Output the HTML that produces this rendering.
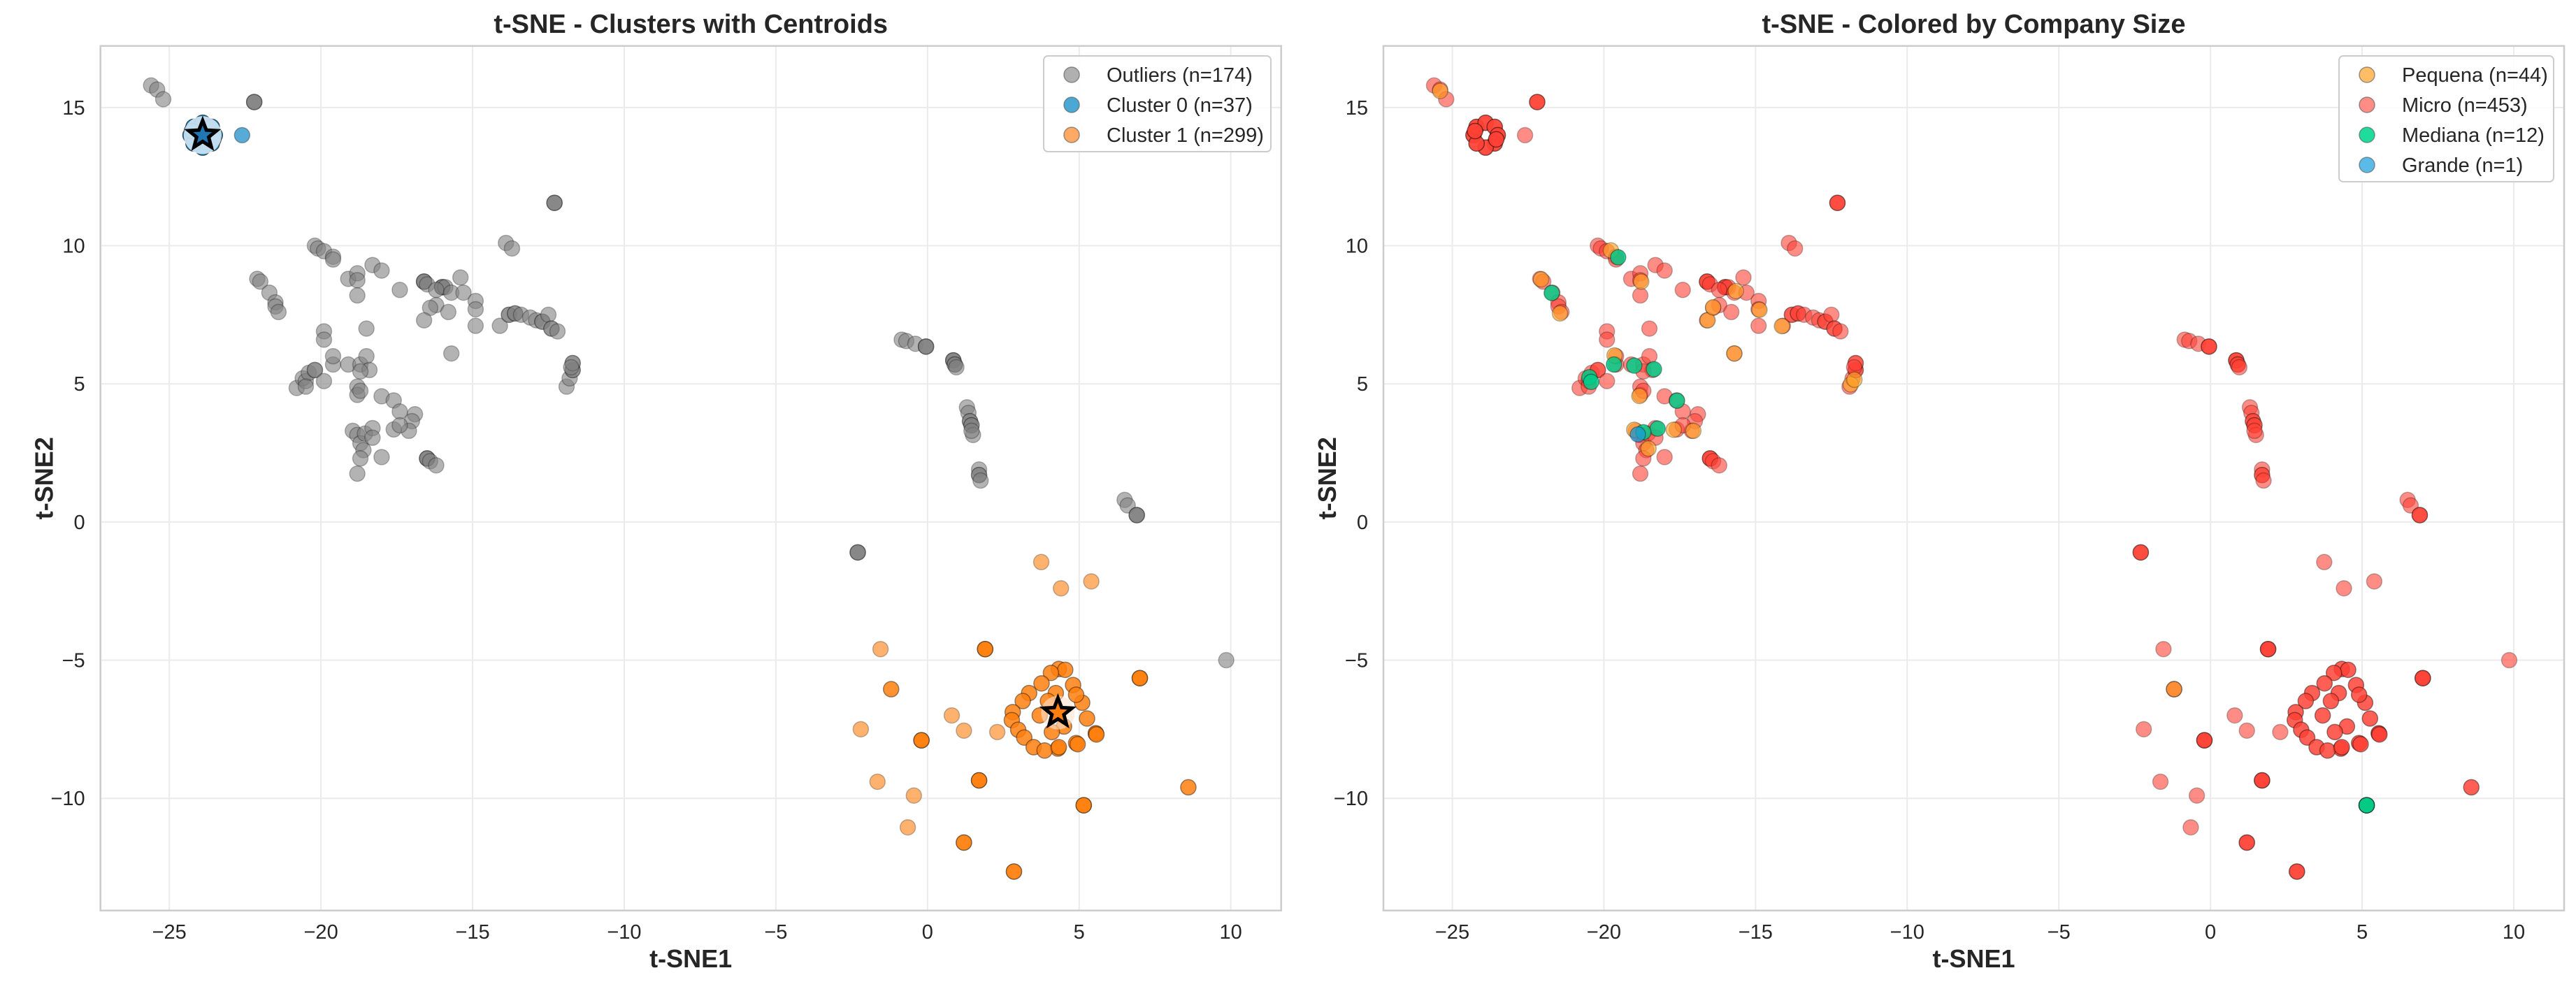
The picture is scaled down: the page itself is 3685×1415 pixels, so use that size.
<!DOCTYPE html>
<html><head><meta charset="utf-8"><style>
html,body{margin:0;padding:0;background:#fff}
svg{display:block;font-family:"Liberation Sans",Arial,sans-serif}
</style></head><body>
<svg id="chart" width="3685" height="1415" viewBox="0 0 3685 1415" xmlns="http://www.w3.org/2000/svg"></svg>
<script>
// ---- data (t-SNE coords: [x, y, multiplicity]) ----
const outliers = [
[-25.6,15.8,1],[-25.4,15.65,1],[-25.2,15.3,1],[-22.2,15.2,3],
[-22.1,8.8,1],[-22.0,8.7,1],[-21.7,8.3,1],[-21.5,7.95,1],[-21.5,7.8,1],[-21.4,7.6,1],
[-20.2,10.0,1],[-20.1,9.9,1],[-19.9,9.8,1],[-19.6,9.6,1],[-19.6,9.5,1],
[-19.9,6.9,1],[-19.9,6.6,1],[-19.1,8.8,1],[-18.8,9.0,1],[-18.8,8.75,1],[-18.8,8.2,1],[-18.3,9.3,1],[-18.0,9.1,1],[-17.4,8.4,1],[-18.5,7.0,1],
[-20.8,4.85,1],[-20.6,5.2,1],[-20.5,5.1,1],[-20.4,5.4,1],[-20.2,5.5,2],[-20.5,4.9,1],[-19.9,5.1,1],[-19.6,5.7,1],[-19.6,6.0,1],[-19.1,5.7,1],[-18.7,5.7,1],[-18.5,6.0,1],[-18.4,5.5,1],[-18.7,5.45,1],[-18.8,4.9,1],[-18.8,4.6,1],[-18.7,4.75,1],
[-18.0,4.55,1],[-17.6,4.4,1],[-17.4,4.0,1],[-16.9,3.9,1],[-17.0,3.65,1],[-17.1,3.3,1],[-17.6,3.35,1],[-17.4,3.5,1],
[-18.95,3.3,1],[-18.8,3.15,1],[-18.7,2.85,1],[-18.55,3.2,1],[-18.3,3.4,1],[-18.3,3.05,1],[-18.6,2.6,1],[-18.7,2.3,1],[-18.8,1.75,1],[-18.0,2.35,1],
[-16.5,2.3,3],[-16.4,2.2,1],[-16.2,2.05,1],
[-16.6,8.7,3],[-16.5,8.6,1],[-16.0,8.5,3],[-15.9,8.5,1],[-16.2,8.4,1],[-15.7,8.3,1],[-15.4,8.85,1],[-15.3,8.3,1],[-14.9,8.0,1],[-14.9,7.7,1],[-16.2,7.85,1],[-16.4,7.75,1],[-15.8,7.6,1],[-16.6,7.3,1],[-14.9,7.1,1],[-15.7,6.1,1],
[-13.9,10.1,1],[-13.7,9.9,1],
[-14.1,7.1,1],[-13.8,7.5,2],[-13.6,7.55,2],[-13.4,7.5,1],[-13.1,7.4,1],[-12.9,7.3,1],[-12.7,7.25,2],[-12.5,7.5,1],[-12.4,7.0,2],[-12.2,6.9,1],[-12.3,11.55,3],
[-11.9,4.9,1],[-11.8,5.2,1],[-11.7,5.5,2],[-11.7,5.75,2],[-11.75,5.6,1],
[-0.85,6.6,1],[-0.7,6.55,1],[-0.4,6.45,1],[-0.05,6.35,3],
[0.85,5.85,3],[0.9,5.7,2],[0.95,5.6,1],
[1.3,4.15,1],[1.35,3.95,1],[1.4,3.65,2],[1.45,3.5,2],[1.5,3.15,1],[1.45,3.3,1],
[1.7,1.9,1],[1.7,1.7,2],[1.75,1.5,1],
[6.5,0.8,1],[6.6,0.6,1],[6.9,0.25,3],
[-2.3,-1.1,3],[9.85,-5.0,1]
];
const cluster0 = [
[-22.6,14.0,1],
[-24.3,14.0,3],[-24.2,14.3,3],[-23.9,14.45,3],[-23.6,14.3,3],[-23.5,14.0,3],[-23.6,13.7,3],[-23.9,13.55,3],[-24.2,13.7,3],[-24.25,14.15,3],[-23.55,13.85,3]
];
const cluster1 = [
[3.75,-1.45,1],[4.4,-2.4,1],[5.4,-2.15,1],[-1.55,-4.6,1],[-2.2,-7.5,1],[0.8,-7.0,1],[1.2,-7.55,1],[2.3,-7.6,1],[-1.65,-9.4,1],[-0.45,-9.9,1],[-0.65,-11.05,1],
[1.9,-4.6,4],[7.0,-5.65,4],[-1.2,-6.05,2],[-0.2,-7.9,4],[1.7,-9.35,4],[5.15,-10.25,4],[1.2,-11.6,3],[2.85,-12.65,3],[8.6,-9.6,2],[5.55,-7.65,3],[4.9,-8.0,2],[4.3,-8.2,2],
[4.33,-5.32,2],[4.54,-5.35,2],[4.07,-5.46,2],[3.76,-5.84,2],[4.8,-5.9,2],[3.35,-6.19,2],[3.14,-6.48,2],[2.81,-6.88,2],[2.78,-7.17,2],[2.99,-7.52,2],[3.19,-7.8,2],[3.5,-8.15,2],[3.86,-8.27,2],[4.33,-8.15,2],[4.95,-8.04,2],[5.57,-7.69,2],[5.26,-7.11,2],[5.1,-6.54,2],[4.9,-6.25,2],[4.23,-6.19,2],[3.97,-6.48,2],[4.5,-7.4,2],[3.7,-7.0,2],[4.1,-7.6,2]
];
const centroids = [[-23.9,14.0],[4.3,-6.9]];
const pequena = [[-25.4,15.6],[-22.07,8.78],[-21.45,7.55],[-19.77,9.83],[-18.77,8.7],[-16.58,7.3],[-16.4,7.77],[-15.7,6.1],[-14.87,7.68],[-14.13,7.09],[-15.65,8.36],[-11.86,4.98],[-11.74,5.15],[-18.83,4.56],[-17.7,3.34],[-17.05,3.3],[-19.65,6.03],[-19.0,3.34],[-18.53,2.66],[-1.2,-6.05]];
const mediana = [[-19.53,9.58],[-21.72,8.29],[-19.67,5.7],[-19.0,5.66],[-18.35,5.53],[-20.48,5.24],[-20.42,5.07],[-17.59,4.39],[-18.23,3.38],[-18.7,3.25],[5.15,-10.25],[5.15,-10.25]];
const grande = [[-18.88,3.17]];
const xTicks = [-25,-20,-15,-10,-5,0,5,10];
const yTicks = [-10,-5,0,5,10,15];
const legendLeft = ["Outliers (n=174)","Cluster 0 (n=37)","Cluster 1 (n=299)"];
const legendRight = ["Pequena (n=44)","Micro (n=453)","Mediana (n=12)","Grande (n=1)"];

// ---- layout ----
const NS="http://www.w3.org/2000/svg";
const svg=document.getElementById('chart');
const XMIN=-27.27, XMAX=11.66, YMIN=-14.06, YMAX=17.23;
const TOP=65.7, BOT=1302.7, W=1689;
function mk(tag,attrs,parent){const e=document.createElementNS(NS,tag);for(const k in attrs)e.setAttribute(k,attrs[k]);(parent||svg).appendChild(e);return e;}
function panel(left,title,pname){
  const g=mk('g',{});
  
  
  const sx=x=>left+(x-XMIN)/(XMAX-XMIN)*W;
  const sy=y=>TOP+(YMAX-y)/(YMAX-YMIN)*(BOT-TOP);
  xTicks.forEach(t=>{
    const l=mk('line',{x1:sx(t),x2:sx(t),y1:TOP,y2:BOT,stroke:'#ebebeb','stroke-width':2},g);
    
    
    const tx=mk('text',{x:sx(t),y:1343,'text-anchor':'middle','font-size':29,fill:'#262626'},g);
    tx.textContent=(t<0?'\u2212'+(-t):t);
    
    
  });
  yTicks.forEach(t=>{
    const l=mk('line',{x1:left,x2:left+W,y1:sy(t),y2:sy(t),stroke:'#ebebeb','stroke-width':2},g);
    
    
    const tx=mk('text',{x:left-22,y:sy(t)+10,'text-anchor':'end','font-size':29,fill:'#262626'},g);
    tx.textContent=(t<0?'\u2212'+(-t):t);
    
    
  });
  const fr=mk('rect',{x:left,y:TOP,width:W,height:BOT-TOP,fill:'none',stroke:'#cccccc','stroke-width':2.5},g);
  
  
  const tt=mk('text',{x:left+W/2,y:47,'text-anchor':'middle','font-size':38,'font-weight':'bold',fill:'#262626'},g);
  tt.textContent=title;
  
  
  const xl=mk('text',{x:left+W/2,y:1384,'text-anchor':'middle','font-size':36,'font-weight':'bold',fill:'#262626'},g);
  xl.textContent='t-SNE1';
  
  
  const yl=mk('text',{x:0,y:0,'text-anchor':'middle','font-size':36,'font-weight':'bold',fill:'#262626',transform:`translate(${left-68},${(TOP+BOT)/2}) rotate(-90)`},g);
  yl.textContent='t-SNE2';
  
  
  return {g,sx,sy};
}
function dots(p,arr,color,op,name){
  arr.forEach(d=>{
    const n=d[2]||1;
    for(let i=0;i<n;i++){
      const c=mk('circle',{cx:p.sx(d[0]),cy:p.sy(d[1]),r:11,fill:color,'fill-opacity':op,stroke:'#000','stroke-opacity':0.35*op+0.05,'stroke-width':1.5},p.g);
      
      
    }
  });
}
function star(p,x,y,color,halo,hr,hop){
  const cx=p.sx(x),cy=p.sy(y),R=21,r=9;let pts=[];
  for(let i=0;i<10;i++){const a=-Math.PI/2+i*Math.PI/5;const rr=i%2?r:R;pts.push((cx+rr*Math.cos(a)).toFixed(1)+','+(cy+rr*Math.sin(a)).toFixed(1));}
  const h=mk('circle',{cx:cx,cy:cy,r:hr,fill:halo,'fill-opacity':hop},p.g);
  
  
  const s=mk('polygon',{points:pts.join(' '),fill:color,stroke:'#000','stroke-width':5,'stroke-linejoin':'miter'},p.g);
  
  
}
function legend(p,x,y,w,labels,colors,name){
  const g=mk('g',{},p.g);
  
  
  const h=labels.length*43+8;
  mk('rect',{x:x,y:y,width:w,height:h,rx:6,fill:'#fff','fill-opacity':0.85,stroke:'#cccccc','stroke-width':2},g);
  labels.forEach((lb,i)=>{
    const cy=y+27+i*43;
    const m=mk('circle',{cx:x+40,cy:cy,r:11,fill:colors[i],stroke:'#555','stroke-opacity':0.6,'stroke-width':1.5},g);
    
    
    const t=mk('text',{x:x+90,y:cy+10,'font-size':29,fill:'#262626'},g);
    t.textContent=lb;
    
    
  });
}
// left panel
const P1=panel(143.7,'t-SNE - Clusters with Centroids','clusters-panel');
dots(P1,outliers,'#808080',0.6,'outlier-point');
dots(P1,cluster0,'#1f8fc8',0.75,'cluster0-point');
dots(P1,cluster1,'#ff7f0e',0.6,'cluster1-point');
star(P1,centroids[0][0],centroids[0][1],'#1f77b4','#d3e6f3',27,0.9);
star(P1,centroids[1][0],centroids[1][1],'#ff7f0e','#fde3cf',24,0.6);
legend(P1,1493,80,325,legendLeft,['#b0b0b0','#4ba8d5','#ffaa64'],'cluster-legend');
// right panel
const P2=panel(1979,'t-SNE - Colored by Company Size','company-size-panel');
const allPts=outliers.concat(cluster0,cluster1);
dots(P2,allPts,'#ff4136',0.6,'micro-point');
dots(P2,pequena,'#ffa726',0.65,'pequena-point');
dots(P2,mediana,'#00cc88',0.85,'mediana-point');
dots(P2,grande,'#1a9ad9',0.75,'grande-point');
legend(P2,3346,80,307,legendRight,['#ffbe66','#ff8d86','#1ddc9c','#5bbbe8'],'size-legend');
</script>
</body></html>
